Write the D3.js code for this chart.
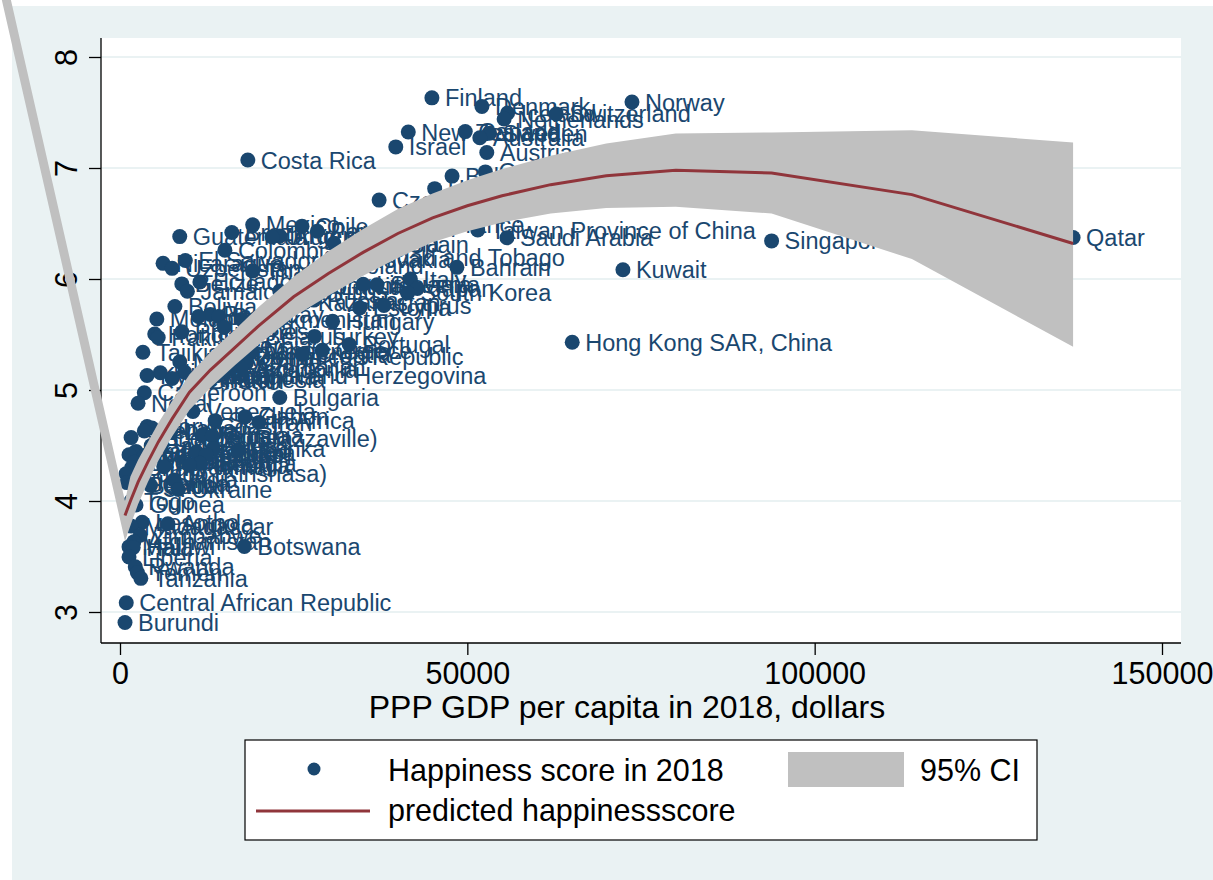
<!DOCTYPE html>
<html><head><meta charset="utf-8">
<script src="https://cdn.jsdelivr.net/npm/d3@7"></script>
<style>body{margin:0;background:#fff} svg{display:block}</style>
</head><body><svg id="chart" width="1213" height="880"></svg>
<script>
const countries = ["Finland","Norway","Denmark","Iceland","Switzerland","Netherlands","Canada","New Zealand","Sweden","Australia","Israel","Austria","Costa Rica","Ireland","Germany","Belgium","Luxembourg","United States","United Kingdom","United Arab Emirates","Czech Republic","Malta","France","Mexico","Chile","Taiwan Province of China","Panama","Brazil","Argentina","Guatemala","Uruguay","Qatar","Saudi Arabia","Singapore","Malaysia","Spain","Colombia","Trinidad and Tobago","Slovakia","El Salvador","Nicaragua","Poland","Bahrain","Uzbekistan","Kuwait","Thailand","Italy","Ecuador","Belize","Lithuania","Slovenia","Romania","Latvia","Japan","Mauritius","Jamaica","South Korea","Russia","Kazakhstan","Cyprus","Bolivia","Estonia","Paraguay","Peru","Kosovo","Moldova","Turkmenistan","Hungary","Libya","Philippines","Honduras","Belarus","Turkey","Pakistan","Hong Kong SAR, China","Portugal","Serbia","Greece","Lebanon","Montenegro","Croatia","Dominican Republic","Algeria","Morocco","China","Azerbaijan","Tajikistan","Macedonia","Jordan","Nigeria","Kyrgyzstan","Bosnia and Herzegovina","Mongolia","Vietnam","Indonesia","Bhutan","Cameroon","Bulgaria","Nepal","Venezuela","Gabon","South Africa","Iran","Ivory Coast","Ghana","Senegal","Laos","Tunisia","Albania","Sierra Leone","Congo (Brazzaville)","Bangladesh","Sri Lanka","Iraq","Mali","Namibia","Cambodia","Burkina Faso","Egypt","Mozambique","Kenya","Zambia","Mauritania","Ethiopia","Georgia","Armenia","Myanmar","Chad","Congo (Kinshasa)","India","Niger","Uganda","Benin","Sudan","Ukraine","Togo","Guinea","Lesotho","Angola","Madagascar","Zimbabwe","Afghanistan","Botswana","Malawi","Haiti","Liberia","Rwanda","Yemen","Tanzania","Central African Republic","Burundi"];
const gdpPerCapita = [44900,73700,52100,55800,62800,55300,49700,41500,53200,51800,39700,52800,18400,78800,52600,47800,114000,62600,45300,74800,37300,44500,45800,19100,26200,51500,28400,16100,23000,8600,21900,137200,55700,93800,30800,39700,15100,31500,33000,9400,6200,31300,48500,7500,72400,19100,41800,11500,8900,35000,37000,26500,29900,42800,23000,9700,41400,27900,26600,38000,7900,34500,13000,14200,11300,5300,17500,30600,15000,8900,5000,19000,28000,5500,65100,33000,16000,29100,15000,19000,26200,17500,15500,8600,18200,17500,3300,15800,9300,5800,3900,14000,12800,7500,13000,11000,3500,23000,2600,10500,18000,13700,20000,3900,4600,3500,7300,11800,13300,1600,5700,4500,13400,17000,2300,11000,4300,1900,12400,1300,3500,3900,4000,2100,11500,10000,6300,1700,870,7800,1000,2000,2300,4400,8400,1600,2300,3200,6900,1600,2900,2000,17900,1300,1900,1300,2200,2500,3000,900,720];
const happinessScore = [7.632,7.594,7.555,7.495,7.487,7.441,7.328,7.324,7.314,7.272,7.190,7.139,7.072,6.977,6.965,6.927,6.910,6.886,6.814,6.774,6.711,6.627,6.489,6.488,6.476,6.441,6.430,6.419,6.388,6.382,6.379,6.374,6.371,6.343,6.322,6.310,6.260,6.192,6.173,6.167,6.141,6.123,6.105,6.096,6.083,6.072,6.000,5.973,5.956,5.952,5.948,5.945,5.933,5.915,5.891,5.890,5.875,5.810,5.790,5.762,5.752,5.739,5.681,5.663,5.662,5.640,5.636,5.620,5.566,5.524,5.504,5.483,5.483,5.472,5.430,5.410,5.398,5.358,5.358,5.347,5.321,5.302,5.295,5.254,5.246,5.201,5.340,5.185,5.161,5.155,5.131,5.129,5.125,5.103,5.093,5.082,4.975,4.933,4.880,4.806,4.758,4.724,4.707,4.671,4.657,4.631,4.623,4.592,4.586,4.571,4.559,4.500,4.471,4.456,4.447,4.441,4.433,4.424,4.419,4.417,4.410,4.377,4.356,4.350,4.340,4.321,4.308,4.301,4.245,4.190,4.166,4.161,4.141,4.139,4.103,3.999,3.964,3.808,3.795,3.774,3.692,3.632,3.590,3.587,3.582,3.495,3.408,3.355,3.303,3.083,2.905];

// fitted prediction and its 95% CI
const fitGdp   = [720,1500,2600,4000,5500,7500,10000,13000,16500,20000,25000,30000,35000,40000,45000,50000,55000,62000,70000,80000,93800,114000,137200];
const fitScore = [3.87,4.00,4.17,4.35,4.53,4.74,4.98,5.18,5.38,5.58,5.84,6.05,6.24,6.41,6.55,6.66,6.75,6.85,6.93,6.98,6.955,6.76,6.32];
const ciUpper  = [4.00,4.22,4.37,4.53,4.70,4.90,5.14,5.34,5.54,5.75,6.02,6.25,6.45,6.63,6.77,6.89,6.99,7.11,7.22,7.31,7.32,7.34,7.23];
const ciLower  = [3.64,3.78,3.97,4.17,4.36,4.58,4.82,5.02,5.22,5.41,5.66,5.85,6.03,6.19,6.33,6.43,6.51,6.59,6.64,6.65,6.59,6.18,5.39];
// stray CI vertices far outside the plot (as in the reference)
const ciStrayGdp   = [-32100, -32100];
const ciStrayScore = [13.02, 12.66];

const xTicks = [0, 50000, 100000, 150000];
const yTicks = [3, 4, 5, 6, 7, 8];
const xTitle = "PPP GDP per capita in 2018, dollars";
const legendLabels = ["Happiness score in 2018", "95% CI", "predicted happinessscore"];

const navy = "#1A476F", maroon = "#90353B", ciGray = "#C0C0C0", bg = "#EAF2F3";
const font = "'Liberation Sans', Arial, sans-serif";

const svg = d3.select("#chart");
const plot = {left: 101, right: 1181, top: 38, bottom: 643};
const x = d3.scaleLinear().domain([0, 150000]).range([120, 1162]);
const y = d3.scaleLinear().domain([3, 8]).range([612, 57]);

// backgrounds
svg.append("rect").attr("x", 12).attr("y", 6).attr("width", 1201).attr("height", 874).attr("fill", bg);
svg.append("rect").attr("x", plot.left).attr("y", plot.top).attr("width", plot.right - plot.left).attr("height", plot.bottom - plot.top).attr("fill", "#fff");

// grid
svg.append("g").selectAll("line").data(yTicks).join("line")
  .attr("x1", plot.left).attr("x2", plot.right)
  .attr("y1", d => y(d)).attr("y2", d => y(d))
  .attr("stroke", bg).attr("stroke-width", 2);

// y axis
const gy = svg.append("g").attr("transform", `translate(${plot.left},0)`)
  .call(d3.axisLeft(y).tickValues(yTicks).tickSize(12).tickSizeOuter(0).tickFormat(d3.format("d")));
gy.select(".domain").remove();
gy.selectAll(".tick line").attr("stroke", "#000").attr("stroke-width", 1.3);
gy.selectAll(".tick text").attr("x", null).attr("dy", null)
  .attr("transform", "translate(-24,0) rotate(-90)")
  .attr("text-anchor", "middle").attr("fill", "#000")
  .style("font-family", font).style("font-size", "30.5px");
gy.append("line").attr("x1", 0).attr("x2", 0).attr("y1", plot.top).attr("y2", plot.bottom).attr("stroke", "#000").attr("stroke-width", 1.3);

// x axis
const gx = svg.append("g").attr("transform", `translate(0,${plot.bottom})`)
  .call(d3.axisBottom(x).tickValues(xTicks).tickSize(12).tickSizeOuter(0).tickPadding(7).tickFormat(d3.format("d")));
gx.select(".domain").remove();
gx.selectAll(".tick line").attr("stroke", "#000").attr("stroke-width", 1.3);
gx.selectAll(".tick text").attr("fill", "#000").style("font-family", font).style("font-size", "30.5px");
gx.append("line").attr("x1", plot.left).attr("x2", plot.right).attr("y1", 0).attr("y2", 0).attr("stroke", "#000").attr("stroke-width", 1.3);

svg.append("text").attr("x", 627).attr("y", 718)
  .attr("text-anchor", "middle").attr("fill", "#000")
  .style("font-family", font).style("font-size", "32px").text(xTitle);

// scatter with labels
const pts = countries.map((c, i) => ({c, g: gdpPerCapita[i], s: happinessScore[i]}));
const gp = svg.append("g");
pts.forEach(p => {
  gp.append("circle").attr("cx", x(p.g)).attr("cy", y(p.s)).attr("r", 7.5).attr("fill", navy);
  gp.append("text").attr("x", x(p.g) + 13).attr("y", y(p.s) + 8.5)
    .attr("fill", navy).style("font-family", font).style("font-size", "23.5px").text(p.c);
});

// CI band (upper edge left to right, lower edge right to left)
const upperPts = [[ciStrayGdp[0], ciStrayScore[0]]].concat(fitGdp.map((g, i) => [g, ciUpper[i]]));
const lowerPts = fitGdp.map((g, i) => [g, ciLower[i]]).reverse().concat([[ciStrayGdp[1], ciStrayScore[1]]]);
const poly = upperPts.concat(lowerPts);
svg.append("path").attr("d", d3.line().x(d => x(d[0])).y(d => y(d[1]))(poly) + "Z").attr("fill", ciGray);

// fitted line
svg.append("path").datum(fitGdp.map((g, i) => [g, fitScore[i]]))
  .attr("d", d3.line().x(d => x(d[0])).y(d => y(d[1])))
  .attr("fill", "none").attr("stroke", maroon).attr("stroke-width", 3);

// legend
const lg = svg.append("g");
lg.append("rect").attr("x", 245).attr("y", 740).attr("width", 792).attr("height", 100).attr("fill", "#fff").attr("stroke", "#000").attr("stroke-width", 1.2);
lg.append("circle").attr("cx", 314).attr("cy", 769).attr("r", 6.5).attr("fill", navy);
lg.append("text").attr("x", 388).attr("y", 781).text(legendLabels[0]);
lg.append("rect").attr("x", 788).attr("y", 752).attr("width", 116).attr("height", 35).attr("fill", ciGray);
lg.append("text").attr("x", 920).attr("y", 781).text(legendLabels[1]);
lg.append("line").attr("x1", 256).attr("x2", 370).attr("y1", 811).attr("y2", 811).attr("stroke", maroon).attr("stroke-width", 3);
lg.append("text").attr("x", 388).attr("y", 821).text(legendLabels[2]);
lg.selectAll("text").attr("fill", "#000").style("font-family", font).style("font-size", "30.5px");
</script>
</body></html>
